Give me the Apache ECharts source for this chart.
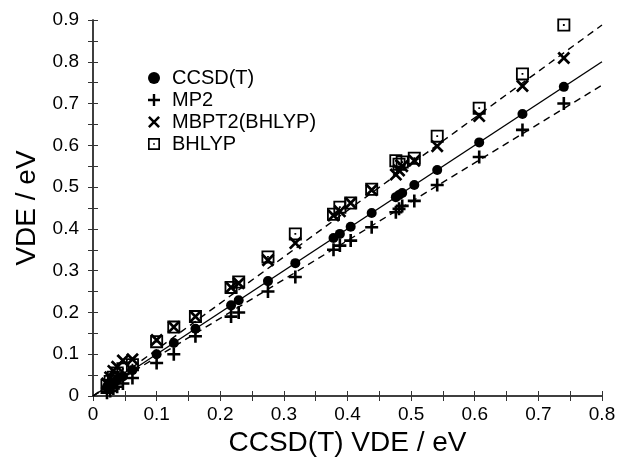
<!DOCTYPE html>
<html>
<head>
<meta charset="utf-8">
<script src="https://cdn.jsdelivr.net/npm/echarts@6/dist/echarts.min.js"></script>
<style>
  html, body { margin: 0; padding: 0; background: #fff; }
  #chart { width: 622px; height: 467px; }
</style>
</head>
<body>
<div id="chart"></div>
<script>
// CCSD(T) reference VDEs (x axis, eV)
var ccsdX = [0.022, 0.027, 0.032, 0.038, 0.047, 0.062, 0.100, 0.127, 0.161, 0.217, 0.229, 0.275,
             0.318, 0.378, 0.388, 0.405, 0.438, 0.476, 0.481, 0.486, 0.505, 0.541, 0.607, 0.675, 0.740];
var ccsdY = ccsdX.slice();
var mp2Y  = [0.008, 0.012, 0.018, 0.022, 0.030, 0.043, 0.079, 0.100, 0.143, 0.190, 0.200, 0.250,
             0.285, 0.350, 0.360, 0.372, 0.404, 0.440, 0.448, 0.455, 0.467, 0.505, 0.572, 0.637, 0.700];
var mbptY = [0.030, 0.045, 0.060, 0.070, 0.085, 0.088, 0.134, 0.165, 0.190, 0.260, 0.270, 0.325,
             0.366, 0.432, 0.442, 0.462, 0.493, 0.530, 0.540, 0.550, 0.563, 0.598, 0.670, 0.742, 0.809];
var bhlypY = [0.025, 0.035, 0.045, 0.055, 0.065, 0.075, 0.130, 0.165, 0.190, 0.260, 0.273, 0.333,
              0.388, 0.435, 0.452, 0.462, 0.495, 0.563, 0.555, 0.560, 0.569, 0.622, 0.689, 0.771, 0.888];

// fitted lines (two end points each)
var fitX     = [0, 0.8];
var fitMid   = [0, 0.8];
var fitUpper = [0, 0.888];
var fitLower = [0, 0.744];

var names = ['CCSD(T)', 'MP2', 'MBPT2(BHLYP)', 'BHLYP'];

function pairs(xs, ys) {
  return xs.map(function (x, i) { return [x, ys[i]]; });
}

var plusPath  = 'path://M0,4H10V6H0Z M4,0H6V10H4Z';
var crossPath = 'path://M0.6,2L2,0.6L10,8.6L8.6,10Z M8.6,0.6L10,2L2,10L0.6,8.6Z';
var boxPath   = 'path://M0,0H10V10H0Z M1.4,1.4V8.6H8.6V1.4Z M4.3,4.3H5.7V5.7H4.3Z';

var font = 'Liberation Sans, Arial, Helvetica, sans-serif';
var axisColor = '#333';

var myChart = echarts.init(document.getElementById('chart'));

function lineSeries(ys, dashed) {
  return {
    type: 'line',
    data: pairs(fitX, ys),
    symbol: 'none',
    silent: true,
    lineStyle: { color: '#000', width: 1.4, type: dashed ? [7, 5] : 'solid' },
    z: 1
  };
}

function tickAxis(extra) {
  var base = {
    type: 'value',
    axisLine: { show: true, lineStyle: { color: axisColor, width: 1.5 } },
    axisTick: { show: true, inside: true, length: 5, lineStyle: { color: axisColor } },
    minorTick: { show: true, splitNumber: 2, length: 5, lineStyle: { color: axisColor } },
    splitLine: { show: false }
  };
  return Object.assign(base, extra);
}

var markStyle = { color: '#000', opacity: 1 };

var option = {
  animation: false,
  backgroundColor: '#fff',
  textStyle: { fontFamily: font },
  grid: { left: 93, right: 20, top: 20, bottom: 71 },
  legend: {
    orient: 'vertical',
    left: 143,
    top: 63,
    itemWidth: 12,
    itemHeight: 12,
    itemGap: 2,
    data: names,
    textStyle: { fontFamily: font, fontSize: 20, color: '#000', padding: [0, 0, 0, 7] }
  },
  xAxis: [
    tickAxis({
      min: 0, max: 0.8, interval: 0.1,
      name: 'CCSD(T) VDE / eV', nameLocation: 'middle', nameGap: 30,
      nameTextStyle: { fontFamily: font, fontSize: 28, color: '#000' },
      axisLabel: { margin: 9, fontSize: 19, color: '#000', fontFamily: font }
    }),
    tickAxis({
      min: 0, max: 0.8, interval: 0.1, position: 'top',
      axisLabel: { show: false }
    })
  ],
  yAxis: [
    tickAxis({
      min: 0, max: 0.9, interval: 0.1,
      name: 'VDE / eV', nameLocation: 'middle', nameGap: 46, nameRotate: 90,
      nameTextStyle: { fontFamily: font, fontSize: 28, color: '#000' },
      axisLabel: { margin: 14, fontSize: 19, color: '#000', fontFamily: font }
    }),
    tickAxis({
      min: 0, max: 0.9, interval: 0.1, position: 'right',
      axisLabel: { show: false }
    })
  ],
  series: [
    lineSeries(fitMid, false),
    lineSeries(fitUpper, true),
    lineSeries(fitLower, true),
    {
      name: names[0], type: 'scatter', symbol: 'circle', symbolSize: 10,
      itemStyle: markStyle, data: pairs(ccsdX, ccsdY), z: 3
    },
    {
      name: names[1], type: 'scatter', symbol: plusPath, symbolSize: 13,
      itemStyle: markStyle, data: pairs(ccsdX, mp2Y), z: 3
    },
    {
      name: names[2], type: 'scatter', symbol: crossPath, symbolSize: 13,
      itemStyle: markStyle, data: pairs(ccsdX, mbptY), z: 3
    },
    {
      name: names[3], type: 'scatter', symbol: boxPath, symbolSize: 13,
      itemStyle: markStyle, data: pairs(ccsdX, bhlypY), z: 3
    }
  ]
};

myChart.setOption(option);
</script>
</body>
</html>
